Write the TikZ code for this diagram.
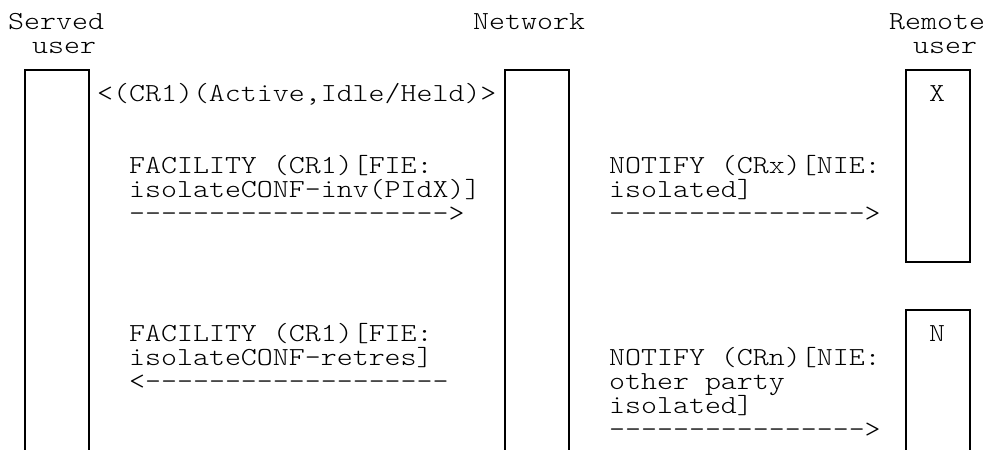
\documentclass[tikz,border=0pt]{standalone}
\usepackage{fontspec}
\newfontfamily\mono{lmmonolt10-regular.otf}[FakeStretch=1.17]
\tikzset{
  lbl/.style={font={\mono\fontsize{26}{24}\selectfont}, inner sep=0pt, anchor=base west, text=black},
  lifeline/.style={line width=1.8pt, black, line join=miter}
}
\begin{document}
\begin{tikzpicture}[x=1pt,y=-1pt]
\useasboundingbox (0,0) rectangle (989,450);
% headers
\node[lbl] (h1a) at (8,29) {Served};
\node[lbl] (h1b) at (32,53) {user};
\node[lbl] (h2) at (473,29) {Network};
\node[lbl] (h3a) at (889,29) {Remote};
\node[lbl] (h3b) at (913,53) {user};
% lifeline boxes
\coordinate (s1) at (25,452);
\coordinate (s2) at (89,452);
\draw[lifeline] (s1) -- (25,70) -- (89,70) -- (s2);
\coordinate (n1) at (505,452);
\coordinate (n2) at (569,452);
\draw[lifeline] (n1) -- (505,70) -- (569,70) -- (n2);
\draw[lifeline] (906,70) rectangle (970,262);
\coordinate (r1) at (906,452);
\coordinate (r2) at (970,452);
\draw[lifeline] (r1) -- (906,310) -- (970,310) -- (r2);
% box labels
\node[lbl] (bx) at (929,101) {X};
\node[lbl] (bn) at (929,341) {N};
% state line
\node[lbl] (st) at (97,101) {<(CR1)(Active,Idle/Held)>};
% message 1
\node[lbl] (m1a) at (129,173) {FACILITY (CR1)[FIE:};
\node[lbl] (m1b) at (129,197) {isolateCONF-inv(PIdX)]};
\node[lbl] (m1c) at (129,221) {-------------------->};
% message 2
\node[lbl] (m2a) at (609,173) {NOTIFY (CRx)[NIE:};
\node[lbl] (m2b) at (609,197) {isolated]};
\node[lbl] (m2c) at (609,221) {---------------->};
% message 3
\node[lbl] (m3a) at (129,341) {FACILITY (CR1)[FIE:};
\node[lbl] (m3b) at (129,365) {isolateCONF-retres]};
\node[lbl] (m3c) at (129,389) {<-------------------};
% message 4
\node[lbl] (m4a) at (609,365) {NOTIFY (CRn)[NIE:};
\node[lbl] (m4b) at (609,389) {other party};
\node[lbl] (m4c) at (609,413) {isolated]};
\node[lbl] (m4d) at (609,437) {---------------->};
\end{tikzpicture}
\end{document}
